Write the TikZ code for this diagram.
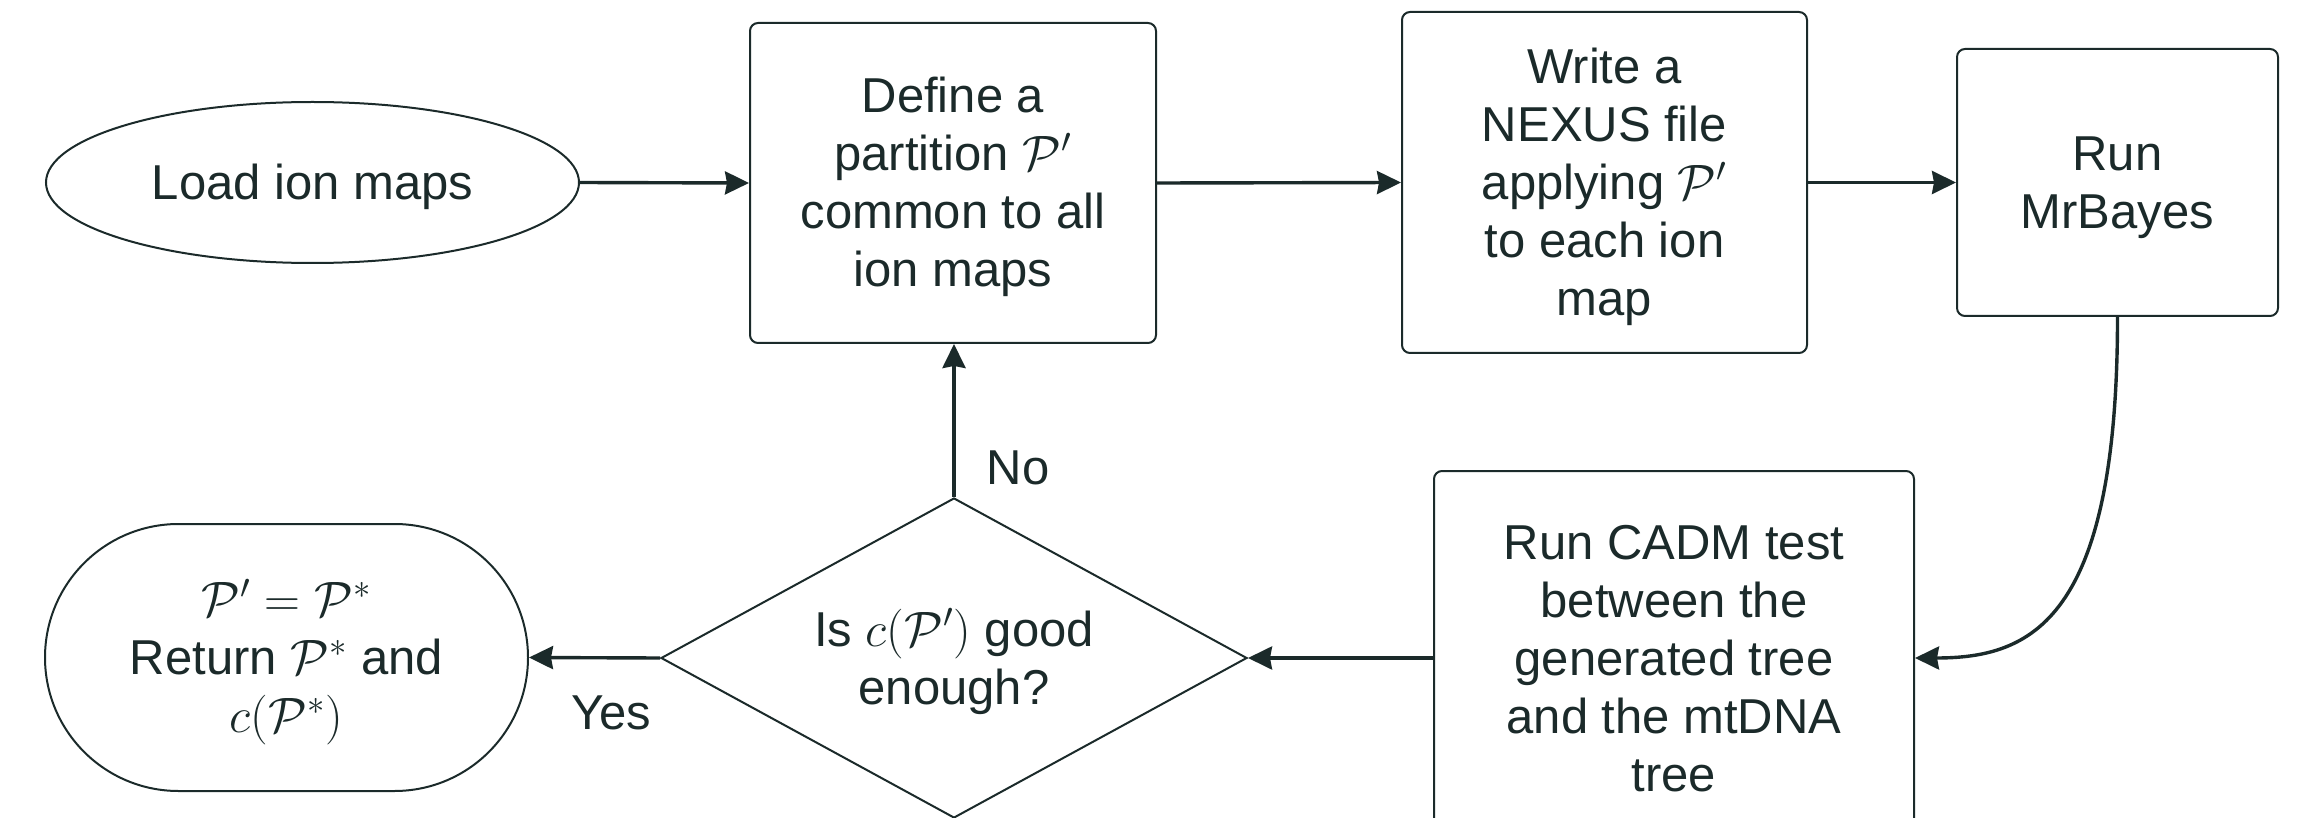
\documentclass[tikz,border=0pt]{standalone}
\usepackage{fontspec}
\setmainfont{Liberation Sans}
\usetikzlibrary{shapes.geometric,shapes.misc,arrows.meta}
\definecolor{ink}{RGB}{27,42,42}
\newcommand{\mltext}[1]{\raisebox{-2.7pt}[\height][\depth]{\begin{tabular}{@{}c@{}}#1\end{tabular}}}
\begin{document}
\begin{tikzpicture}[x=0.5pt,y=-0.5pt,
  every node/.style={text=ink, font=\fontsize{24.5}{29}\selectfont},
  shapebox/.style={draw=ink, line width=1pt, inner sep=0pt},
  procbox/.style={shapebox, rectangle, rounded corners=4pt},
  conn/.style={draw=ink, line width=1.7pt, -{Stealth[length=12pt,width=11.5pt,inset=1pt]}},
  lbl/.style={inner sep=0pt}]
\clip (0,0) rectangle (2298,818);
\node[shapebox, ellipse, minimum width=266.5pt, minimum height=80.5pt] (load) at (312.5,182.5) {\mltext{Load ion maps}};
\node[procbox, minimum width=203pt, minimum height=160pt] (define) at (953,183) {\mltext{Define a\\partition $\mathcal{P}'$\\common to all\\ion maps}};
\node[procbox, minimum width=202.5pt, minimum height=170.5pt] (write) at (1604.5,182.5) {\mltext{Write a\\NEXUS file\\applying $\mathcal{P}'$\\to each ion\\map}};
\node[procbox, minimum width=160.5pt, minimum height=133.5pt] (mrb) at (2117.5,182.5) {\mltext{Run\\MrBayes}};
\node[procbox, minimum width=240pt, minimum height=187pt] (cadm) at (1674,658) {\mltext{Run CADM test\\between the\\generated tree\\and the mtDNA\\tree}};
\node[shapebox, diamond, shape aspect=1.83, minimum width=293pt, minimum height=160pt] (dec) at (954,658) {\mltext{Is $c(\mathcal{P}')$ good\\enough?}};
\node[shapebox, rounded rectangle, minimum width=241.5pt, minimum height=133.5pt] (done) at (286.5,657.5) {\mltext{$\mathcal{P}'=\mathcal{P}^{*}$\\Return $\mathcal{P}^{*}$ and\\$c(\mathcal{P}^{*})$}};
\node[lbl] (no) at (1018,468) {No};
\node[lbl] (yes) at (611,713) {Yes};
\draw[conn] (load.east) -- (define.west);
\draw[conn] (define.east) -- (write.west);
\draw[conn] (write.east) -- (mrb.west);
\draw[conn] (mrb.south) .. controls +(0,304) and +(116,0) .. (cadm.east);
\draw[conn] (cadm.west) -- (dec.east);
\draw[conn] (dec.west) -- (done.east);
\draw[conn] (dec.north) -- (dec.north |- define.south);
\end{tikzpicture}
\end{document}
